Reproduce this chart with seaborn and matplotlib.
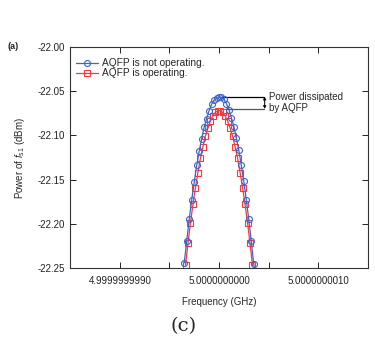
import numpy as np
import pandas as pd
import matplotlib
matplotlib.use("Agg")
import matplotlib.pyplot as plt
import seaborn as sns

# Frequency offset from 5 GHz, in Hz (1 Hz = 1e-9 GHz)
blue_x = [-0.350, -0.325, -0.300, -0.275, -0.250, -0.225, -0.200, -0.175, -0.150,
          -0.125, -0.100, -0.075, -0.050, -0.025, 0.000, 0.025, 0.050, 0.075,
          0.100, 0.125, 0.150, 0.175, 0.200, 0.225, 0.250, 0.275, 0.300, 0.325, 0.350, 0.375]
blue_y = [-22.244, -22.219, -22.195, -22.173, -22.153, -22.134, -22.118, -22.104, -22.091,
          -22.081, -22.072, -22.065, -22.060, -22.058, -22.057, -22.057, -22.059, -22.064,
          -22.071, -22.080, -22.090, -22.103, -22.117, -22.134, -22.152, -22.173, -22.195,
          -22.219, -22.246, -22.262]
red_x = [-0.3375, -0.3125, -0.2875, -0.2625, -0.2375, -0.2125, -0.1875, -0.1625, -0.1375,
         -0.1125, -0.0875, -0.0625, -0.0375, -0.0125, 0.0125, 0.0375, 0.0625, 0.0875,
         0.1125, 0.1375, 0.1625, 0.1875, 0.2125, 0.2375, 0.2625, 0.2875, 0.3125, 0.3375]
red_y = [-22.247, -22.222, -22.199, -22.178, -22.159, -22.142, -22.126, -22.113, -22.101,
         -22.092, -22.084, -22.078, -22.074, -22.072, -22.072, -22.074, -22.078, -22.084,
         -22.092, -22.101, -22.113, -22.126, -22.142, -22.159, -22.178, -22.199, -22.222, -22.247]

x_ticks = [-1.5, -1.0, -0.5, 0.0, 0.5, 1.0, 1.5]
x_ticklabels = ["", "4.9999999990", "", "5.0000000000", "", "5.0000000010", ""]
y_ticks = [-22.25, -22.20, -22.15, -22.10, -22.05, -22.00]

sns.set_theme(style="ticks")
plt.rcParams['font.family'] = ['Liberation Sans', 'DejaVu Sans']
plt.rcParams['mathtext.fontset'] = 'custom'
plt.rcParams['mathtext.it'] = 'Liberation Sans:italic'
plt.rcParams['mathtext.rm'] = 'Liberation Sans'

fig = plt.figure(figsize=(3.75, 3.38), dpi=100)
ax = fig.add_axes([0.187, 0.207, 0.794, 0.654])

blue = "#3f63c8"
red = "#f23a40"
dfb = pd.DataFrame({"x": blue_x, "y": blue_y})
dfr = pd.DataFrame({"x": red_x, "y": red_y})
sns.lineplot(data=dfb, x="x", y="y", ax=ax, color=blue, lw=0.9, marker="o",
             markersize=4.3, markerfacecolor="none", markeredgecolor=blue,
             markeredgewidth=0.8, label="AQFP is not operating.", zorder=3)
sns.lineplot(data=dfr, x="x", y="y", ax=ax, color=red, lw=0.9, marker="s",
             markersize=4.3, markerfacecolor="none", markeredgecolor=red,
             markeredgewidth=0.8, label="AQFP is operating.", zorder=2)

ax.set_xlim(-1.5, 1.5)
ax.set_ylim(-22.25, -22.00)
ax.set_xticks(x_ticks)
ax.set_xticklabels(x_ticklabels)
ax.set_yticks(y_ticks)
ax.set_yticklabels([f"{v:.2f}" for v in y_ticks])
ax.tick_params(direction="in", top=True, right=True, labelsize=7, length=4, width=0.7, colors="#222222")
ax.tick_params(axis="x", pad=6)
for s in ax.spines.values():
    s.set_linewidth(0.8)
    s.set_color("#333333")

ax.set_xlabel("Frequency (GHz)", fontsize=7, labelpad=8)
ax.set_ylabel("Power of $f_{\\mathrm{s1}}$ (dBm)", fontsize=7, labelpad=8)

leg = ax.legend(loc="upper left", bbox_to_anchor=(0.0, 0.975), fontsize=7.3, frameon=False,
                handlelength=2.2, handletextpad=0.35, borderaxespad=0.15, labelspacing=0.0)

# annotation
ax.plot([0.02, 0.45], [-22.0562, -22.0562], color="black", lw=0.9)
ax.plot([0.07, 0.45], [-22.0700, -22.0700], color="#555555", lw=0.9)
ax.annotate("", xy=(0.46, -22.0562), xytext=(0.46, -22.0700),
            arrowprops=dict(arrowstyle="<|-|>", color="black", lw=0.7,
                            mutation_scale=4, shrinkA=0, shrinkB=0))
ax.text(0.5, -22.063, "Power dissipated\nby AQFP", fontsize=7, va="center", ha="left",
        linespacing=1.1)

fig.text(0.02, 0.862, "(a)", fontsize=6.5, fontweight="bold", va="center")
fig.text(0.49, 0.035, "(c)", fontsize=14, family="DejaVu Serif", ha="center", va="center")

fig.savefig("out.png", dpi=100)
